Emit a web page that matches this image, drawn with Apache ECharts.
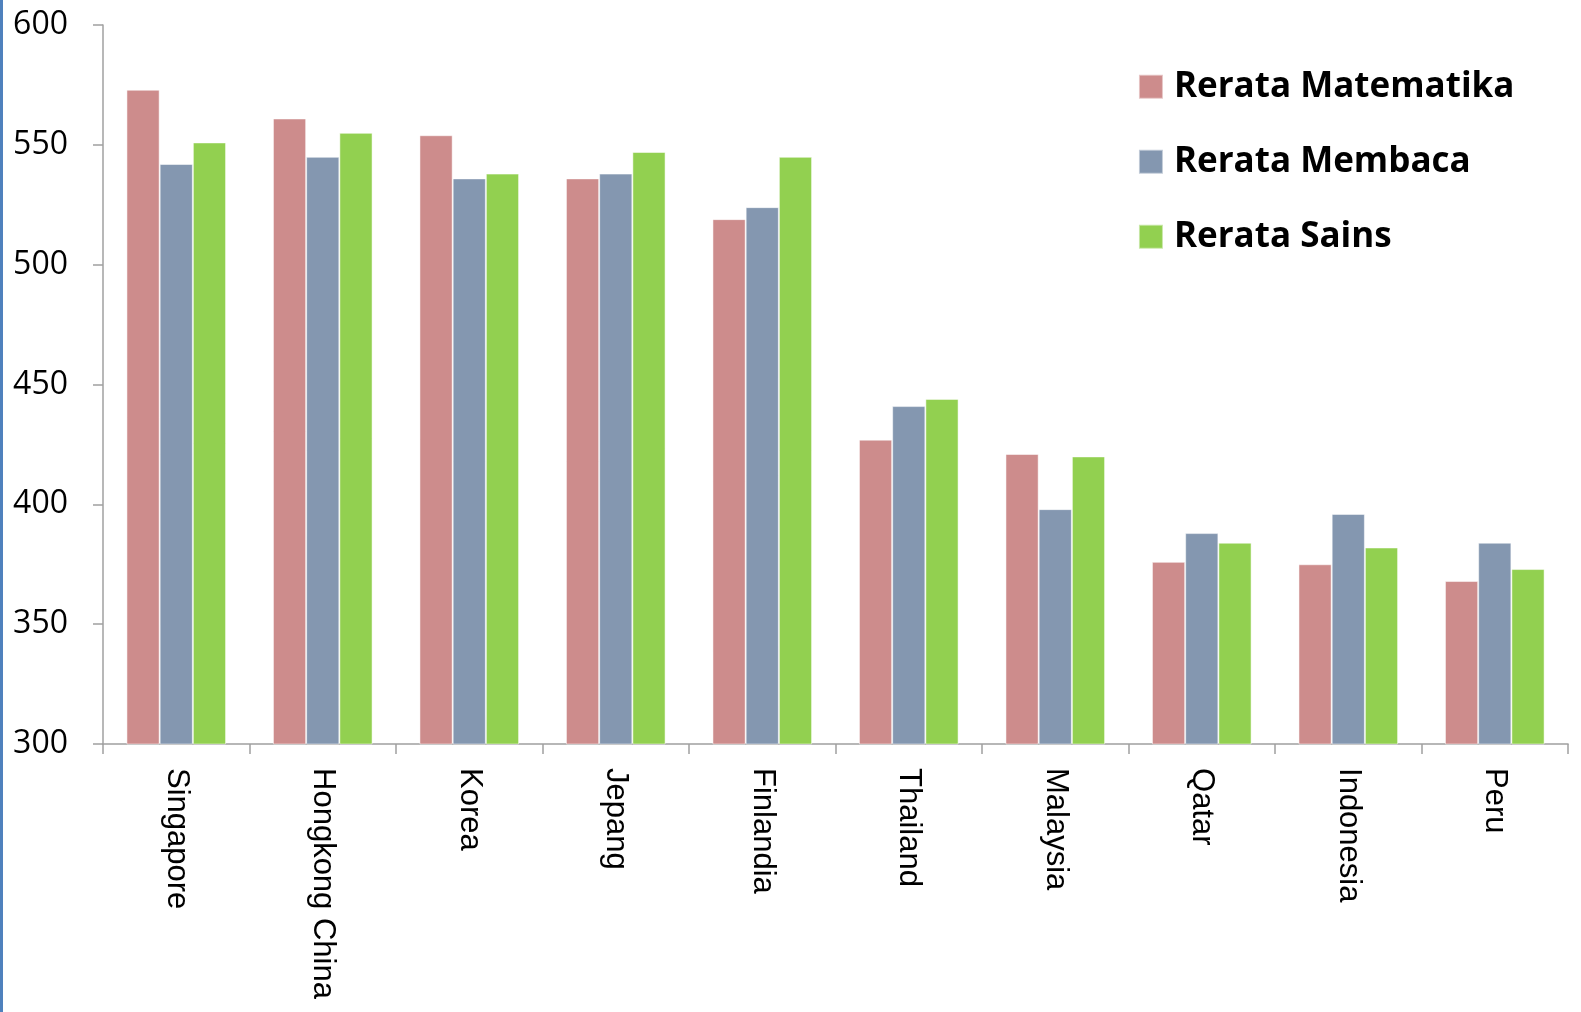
<!DOCTYPE html>
<html>
<head>
<meta charset="utf-8">
<script src="https://cdn.jsdelivr.net/npm/echarts@6/dist/echarts.min.js"></script>
<style>
html,body{margin:0;padding:0;background:#fff;overflow:hidden;width:100vw;height:100vh;}
#main{position:absolute;left:0;top:0;width:100vw;height:100vh;}
#edge{position:absolute;left:0;top:0;width:3px;height:100vh;background:#4F81BD;}
</style>
</head>
<body>
<div id="main"></div>
<div id="edge"></div>
<script>
const categories = ['Singapore','Hongkong China','Korea','Jepang','Finlandia','Thailand','Malaysia','Qatar','Indonesia','Peru'];
const matematika = [573, 561, 554, 536, 519, 427, 421, 376, 375, 368];
const membaca   = [542, 545, 536, 538, 524, 441, 398, 388, 396, 384];
const sains     = [551, 555, 538, 547, 545, 444, 420, 384, 382, 373];
const seriesNames = ['Rerata Matematika','Rerata Membaca','Rerata Sains'];
const yTicks = {min: 300, max: 600, interval: 50};

const colors = ['#CD8C8C','#8497B0','#92D050'];
const chart = echarts.init(document.getElementById('main'));
const mk = (name, data, i) => ({
  name, type: 'bar', data,
  barGap: '0%', barCategoryGap: '32%',
  itemStyle: {color: colors[i], borderColor: 'rgba(255,255,255,0.5)', borderWidth: 1},
  emphasis: {disabled: true}
});
chart.setOption({
  animation: false,
  grid: {left: '6.515%', right: '0.82%', top: '2.47%', bottom: '26.48%', containLabel: false},
  legend: {
    orient: 'vertical', left: '71.66%', top: '6.3%',
    itemWidth: 24, itemHeight: 24, itemGap: 39, icon: 'rect',
    textStyle: {fontFamily: 'Open Sans', fontWeight: 'bold', fontSize: 35, color: '#000', lineHeight: 36, padding: [0,0,0,6]},
    data: seriesNames
  },
  xAxis: {
    type: 'category', data: categories,
    axisLine: {lineStyle: {color: '#A0A0A0', width: 1.5}},
    axisTick: {show: true, length: 10, lineStyle: {color: '#A0A0A0', width: 1.5}},
    axisLabel: {rotate: -90, margin: 24, fontFamily: 'Liberation Sans', fontSize: 31, color: '#000', interval: 0}
  },
  yAxis: {
    type: 'value', min: yTicks.min, max: yTicks.max, interval: yTicks.interval,
    axisLine: {show: true, lineStyle: {color: '#A0A0A0', width: 1.5}},
    axisTick: {show: true, length: 10, lineStyle: {color: '#A0A0A0', width: 1.5}},
    splitLine: {show: false},
    axisLabel: {margin: 35, fontFamily: 'Open Sans', fontSize: 32, color: '#000'}
  },
  series: [mk(seriesNames[0], matematika, 0), mk(seriesNames[1], membaca, 1), mk(seriesNames[2], sains, 2)]
});
window.addEventListener('resize', () => chart.resize());
</script>
</body>
</html>
